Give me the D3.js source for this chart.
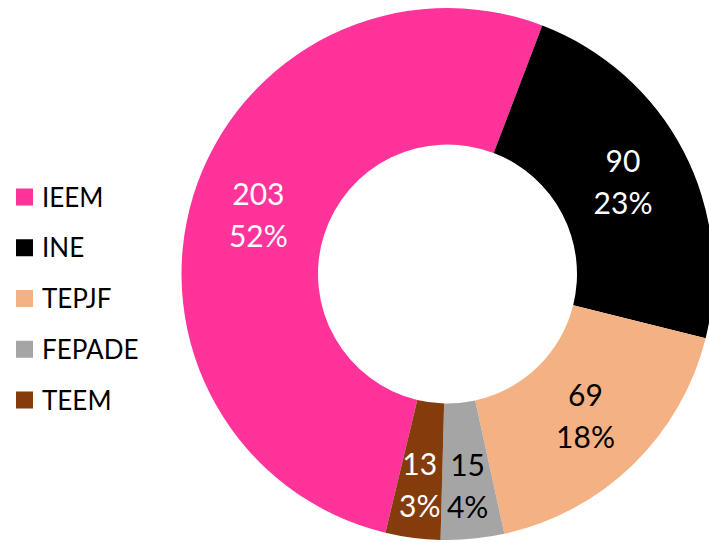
<!DOCTYPE html>
<html>
<head>
<meta charset="utf-8">
<script src="https://cdn.jsdelivr.net/npm/d3@7/dist/d3.min.js"></script>
<style>
html,body{margin:0;padding:0;background:#fff;overflow:hidden;}
svg{display:block;}
text{font-family:Lato,"Open Sans",sans-serif;}
</style>
</head>
<body>
<svg id="chart" width="709" height="543"></svg>
<script>
const categories = ["IEEM", "INE", "TEPJF", "FEPADE", "TEEM"];
const values = [203, 90, 69, 15, 13];
const colors = ["#FF3399", "#000000", "#F4B183", "#A5A5A5", "#843C0C"];
const labelColors = ["#ffffff", "#ffffff", "#000000", "#000000", "#ffffff"];

const svg = d3.select("#chart");
const W = 709, H = 543;
const cx = 447.5, cy = 274;
const outerR = 266, innerR = 129.5;
const startDeg = 193.5;

const total = d3.sum(values);
const data = categories.map((c, i) => ({cat: c, value: values[i], i}));

const pie = d3.pie()
  .value(d => d.value)
  .sort(null)
  .startAngle(startDeg * Math.PI / 180)
  .endAngle(startDeg * Math.PI / 180 + 2 * Math.PI);

const arcs = pie(data);
const arc = d3.arc().innerRadius(innerR).outerRadius(outerR);

const g = svg.append("g").attr("transform", `translate(${cx},${cy})`);

g.selectAll("path.slice")
  .data(arcs)
  .join("path")
  .attr("class", "slice")
  .attr("d", arc)
  .attr("fill", d => colors[d.data.i]);

// labels
const labelArcWide = d3.arc().innerRadius(198).outerRadius(198);
const labelArcNarrow = d3.arc().innerRadius(213).outerRadius(213);

const lab = g.selectAll("g.lab")
  .data(arcs)
  .join("g")
  .attr("class", "lab")
  .attr("transform", d => {
    const span = d.endAngle - d.startAngle;
    const p = (span < 0.3 ? labelArcNarrow : labelArcWide).centroid(d);
    return `translate(${p[0]},${p[1]})`;
  });

lab.append("text")
  .attr("text-anchor", "middle")
  .attr("y", -10)
  .attr("font-size", 30)
  .attr("fill", d => labelColors[d.data.i])
  .text(d => d.data.value);

lab.append("text")
  .attr("text-anchor", "middle")
  .attr("y", 32)
  .attr("font-size", 30)
  .attr("fill", d => labelColors[d.data.i])
  .text(d => Math.round(d.data.value / total * 100) + "%");

// legend
const legendY = d3.scalePoint().domain(categories).range([197, 400]);
const leg = svg.append("g").selectAll("g")
  .data(data)
  .join("g")
  .attr("transform", d => `translate(16,${legendY(d.cat)})`);

leg.append("rect")
  .attr("x", 0).attr("y", -8.5)
  .attr("width", 17).attr("height", 17)
  .attr("fill", d => colors[d.i]);

leg.append("text")
  .attr("x", 26).attr("y", 9.5)
  .attr("font-size", 26)
  .attr("fill", "#000")
  .text(d => d.cat);
</script>
</body>
</html>
